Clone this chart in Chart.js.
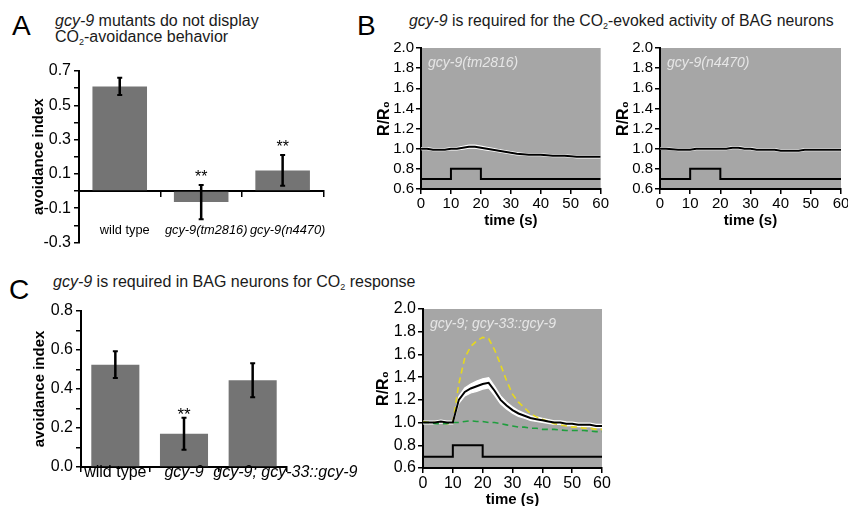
<!DOCTYPE html>
<html>
<head>
<meta charset="utf-8">
<script src="https://cdn.jsdelivr.net/npm/chart.js@4.4.1/dist/chart.umd.min.js"></script>
<style>
  body { margin: 0; width: 848px; height: 506px; overflow: hidden; background: #fff; position: relative;
         font-family: "Liberation Sans", Arial, sans-serif; color: #000; }
  .letter { position: absolute; font-size: 28px; line-height: 28px; }
  .title { position: absolute; font-size: 16px; line-height: 16px; color: #1a1a1a; white-space: nowrap; }
  .title sub { font-size: 9px; line-height: 0; vertical-align: -3px; }
  .box { position: absolute; }
</style>
</head>
<body>
<div class="letter" style="left:12px;top:12px">A</div>
<div class="title" style="left:55px;top:13px"><i>gcy-9</i> mutants do not display<br>CO<sub>2</sub>-avoidance behavior</div>
<div class="letter" style="left:357px;top:12px">B</div>
<div class="title" style="left:409px;top:13px;font-size:15.8px"><i>gcy-9</i> is required for the CO<sub>2</sub>-evoked activity of BAG neurons</div>
<div class="letter" style="left:9px;top:276px">C</div>
<div class="title" style="left:53px;top:274px"><i>gcy-9</i> is required in BAG neurons for CO<sub>2</sub> response</div>

<div class="box" style="left:30px;top:55px;width:320px;height:200px"><canvas id="chartA"></canvas></div>
<div class="box" style="left:370px;top:30px;width:240px;height:200px"><canvas id="chartB1"></canvas></div>
<div class="box" style="left:609px;top:30px;width:250px;height:200px"><canvas id="chartB2"></canvas></div>
<div class="box" style="left:30px;top:295px;width:335px;height:205px"><canvas id="chartC1"></canvas></div>
<div class="box" style="left:370px;top:295px;width:242px;height:214px"><canvas id="chartC2"></canvas></div>

<script>
// behaviour assays
const genotypesA = ['wild type', 'gcy-9(tm2816)', 'gcy-9(n4470)'];
const avoidanceA = [0.61, -0.065, 0.12];
const errorA = [0.05, 0.10, 0.09];
const starsA = ['', '**', '**'];
const yLabelsA = [0.7, 0.5, 0.3, 0.1, -0.1, -0.3];

const genotypesC = ['wild type', 'gcy-9', 'gcy-9; gcy-33::gcy-9'];
const avoidanceC = [0.525, 0.17, 0.445];
const errorC = [0.068, 0.082, 0.087];
const starsC = ['', '**', ''];
const yLabelsC = [0, 0.2, 0.4, 0.6, 0.8];

// calcium imaging, R/R0 every 2 s
const timeSec = [0, 2, 4, 6, 8, 10, 12, 14, 16, 18, 20, 22, 24, 26, 28, 30,
  32, 34, 36, 38, 40, 42, 44, 46, 48, 50, 52, 54, 56, 58, 60];
const tm2816Ratio = [1.00, 1.00, 0.99, 0.99, 0.99, 1.00, 1.00, 1.01, 1.02, 1.02, 1.01, 1.00,
  0.99, 0.98, 0.97, 0.96, 0.95, 0.945, 0.94, 0.94, 0.94, 0.935, 0.93, 0.93, 0.93, 0.925,
  0.92, 0.92, 0.92, 0.92, 0.92];
const tm2816Sem = [0.01, 0.01, 0.01, 0.01, 0.01, 0.01, 0.012, 0.014, 0.015, 0.015, 0.015,
  0.014, 0.013, 0.012, 0.012, 0.011, 0.011, 0.01, 0.01, 0.01, 0.01, 0.01, 0.01, 0.01, 0.01,
  0.01, 0.01, 0.01, 0.01, 0.01, 0.01];
const n4470Ratio = [1.00, 1.00, 0.995, 0.99, 0.99, 0.99, 1.00, 1.00, 1.00, 1.00, 1.00, 1.00,
  1.01, 1.01, 1.00, 1.00, 0.99, 0.99, 0.99, 0.99, 0.98, 0.98, 0.98, 0.98, 0.99, 0.99,
  0.99, 0.99, 0.99, 0.99, 0.99];
const n4470Sem = [0.008, 0.008, 0.008, 0.008, 0.008, 0.008, 0.009, 0.009, 0.009, 0.009,
  0.009, 0.009, 0.01, 0.01, 0.01, 0.01, 0.01, 0.01, 0.01, 0.01, 0.01, 0.01, 0.01, 0.01,
  0.01, 0.01, 0.01, 0.01, 0.01, 0.01, 0.01];
const rescueRatio = [1.00, 1.00, 1.00, 1.01, 1.00, 1.00, 1.20, 1.27, 1.30, 1.32, 1.34, 1.35,
  1.28, 1.20, 1.15, 1.11, 1.08, 1.06, 1.04, 1.03, 1.02, 1.01, 1.00, 1.00, 0.99, 0.99,
  0.98, 0.98, 0.98, 0.97, 0.97];
const rescueSem = [0.012, 0.012, 0.012, 0.012, 0.012, 0.012, 0.03, 0.035, 0.04, 0.045, 0.045,
  0.045, 0.04, 0.035, 0.03, 0.028, 0.025, 0.022, 0.02, 0.02, 0.018, 0.017, 0.016, 0.016,
  0.016, 0.015, 0.015, 0.015, 0.015, 0.015, 0.015];
const wildTypeRatio = [1.01, 1.00, 1.00, 1.00, 0.99, 1.00, 1.34, 1.57, 1.67, 1.72, 1.75, 1.74,
  1.64, 1.51, 1.37, 1.25, 1.18, 1.13, 1.08, 1.05, 1.03, 1.01, 0.99, 0.98, 0.97, 0.96,
  0.96, 0.95, 0.95, 0.94, 0.94];
const mutantRatio = [1.00, 1.00, 0.99, 0.99, 0.99, 1.00, 1.00, 1.01, 1.015, 1.01, 1.01, 1.00,
  1.00, 0.99, 0.98, 0.97, 0.96, 0.96, 0.95, 0.95, 0.94, 0.94, 0.94, 0.935, 0.93, 0.93,
  0.93, 0.93, 0.925, 0.92, 0.92];
const stimTime = [0, 10, 10, 20, 20, 60];
const stimLevel = [0.7, 0.7, 0.8, 0.8, 0.7, 0.7];
const yTicksRatio = [0.6, 0.8, 1.0, 1.2, 1.4, 1.6, 1.8, 2.0];

const FONT = '"Liberation Sans", Arial, sans-serif';
const PLOT_GREY = '#a6a6a6';
const BAR_GREY = '#747474';

function xy(xs, ys) {
  return xs.map((x, i) => ({ x, y: ys[i] }));
}

const plotBg = {
  id: 'plotBg',
  beforeDraw(chart, args, opts) {
    if (!opts.color) return;
    const { ctx, chartArea: a } = chart;
    ctx.save();
    ctx.fillStyle = opts.color;
    ctx.fillRect(a.left, a.top, a.right - a.left, a.bottom - a.top);
    ctx.restore();
  },
};

// white SEM band: fills between the points of the "upper" and "lower" datasets
const semBand = {
  id: 'semBand',
  beforeDatasetsDraw(chart) {
    const { ctx, chartArea: a } = chart;
    const idx = chart.data.datasets.map((d, i) => [d.band, i]);
    const up = idx.find((p) => p[0] === 'upper');
    const lo = idx.find((p) => p[0] === 'lower');
    if (!up || !lo) return;
    const upPts = chart.getDatasetMeta(up[1]).data;
    const loPts = chart.getDatasetMeta(lo[1]).data;
    ctx.save();
    ctx.beginPath();
    ctx.rect(a.left, a.top, a.right - a.left, a.bottom - a.top);
    ctx.clip();
    ctx.beginPath();
    upPts.forEach((p, i) => (i ? ctx.lineTo(p.x, p.y) : ctx.moveTo(p.x, p.y)));
    for (let i = loPts.length - 1; i >= 0; i--) ctx.lineTo(loPts[i].x, loPts[i].y);
    ctx.closePath();
    ctx.fillStyle = '#fff';
    ctx.fill();
    ctx.restore();
  },
};

const cornerLabel = {
  id: 'cornerLabel',
  afterDatasetsDraw(chart, args, opts) {
    if (!opts.text) return;
    const { ctx, chartArea: a } = chart;
    ctx.save();
    ctx.font = 'italic 14px ' + FONT;
    ctx.fillStyle = '#e6e6e6';
    ctx.textBaseline = 'middle';
    ctx.fillText(opts.text, a.left + 7, a.top + 15);
    ctx.restore();
  },
};

const errorBars = {
  id: 'errorBars',
  afterDatasetsDraw(chart, args, opts) {
    const { ctx } = chart;
    const ys = chart.scales.y;
    chart.data.datasets.forEach((ds, di) => {
      if (!ds.errors) return;
      chart.getDatasetMeta(di).data.forEach((bar, i) => {
        const top = ys.getPixelForValue(ds.data[i] + ds.errors[i]);
        const bot = ys.getPixelForValue(ds.data[i] - ds.errors[i]);
        ctx.save();
        ctx.strokeStyle = '#000';
        ctx.lineWidth = 2.5;
        ctx.beginPath();
        ctx.moveTo(bar.x, top);
        ctx.lineTo(bar.x, bot);
        ctx.stroke();
        ctx.lineWidth = 2;
        ctx.beginPath();
        ctx.moveTo(bar.x - 2.5, top);
        ctx.lineTo(bar.x + 2.5, top);
        ctx.moveTo(bar.x - 2.5, bot);
        ctx.lineTo(bar.x + 2.5, bot);
        ctx.stroke();
        if (ds.stars && ds.stars[i]) {
          ctx.fillStyle = '#000';
          ctx.font = (opts.starSize || 16) + 'px ' + FONT;
          ctx.textAlign = 'center';
          ctx.textBaseline = 'alphabetic';
          ctx.fillText(ds.stars[i], bar.x, top + (opts.starShift || 0));
        }
        ctx.restore();
      });
    });
  },
};

// category labels that are wider than their slot start at the slot edge
const catLabels = {
  id: 'catLabels',
  afterDraw(chart, args, opts) {
    if (!opts.labels) return;
    const { ctx, chartArea: a } = chart;
    const xs = chart.scales.x;
    const slot = xs.getPixelForValue(1) - xs.getPixelForValue(0);
    ctx.save();
    ctx.fillStyle = '#000';
    ctx.textBaseline = 'alphabetic';
    opts.labels.forEach((label, i) => {
      ctx.font = (label === 'wild type' ? '' : 'italic ') + opts.size + 'px ' + FONT;
      const w = ctx.measureText(label).width;
      const cx = xs.getPixelForValue(i);
      if (w > slot - 6) {
        ctx.textAlign = 'left';
        ctx.fillText(label, cx - slot / 2 - 5, a.bottom + 10);
      } else {
        ctx.textAlign = 'center';
        ctx.fillText(label, cx, a.bottom + 10);
      }
    });
    ctx.restore();
  },
};

function axisStyle() {
  return {
    border: { display: true, color: '#000', width: 2 },
    grid: { drawOnChartArea: false, drawTicks: true, tickLength: 5, color: '#000', lineWidth: 1.5 },
  };
}

function barChart(id, labels, values, errors, stars, yMin, yMax, yLabels, opts) {
  const yAxis = Object.assign(axisStyle(), {
    min: yMin,
    max: yMax,
    afterFit: (s) => { s.width = opts.yWidth; },
    ticks: {
      stepSize: 0.1,
      autoSkip: false,
      color: '#000',
      padding: 3,
      font: { family: FONT, size: 16 },
      callback: (v) => (yLabels.some((t) => Math.abs(t - v) < 1e-6) ? v.toFixed(1) : ''),
    },
    title: { display: true, text: 'avoidance index', color: '#000', padding: { top: opts.titlePad, bottom: 0 },
      font: { family: FONT, size: 15, weight: 'bold' } },
  });
  const xAxis = Object.assign(axisStyle(), opts.xAxis, {
    afterFit: (s) => { s.height = opts.xHeight; },
  });
  xAxis.grid = Object.assign(xAxis.grid, { offset: true });
  return new Chart(document.getElementById(id), {
    type: 'bar',
    data: {
      labels,
      datasets: [{
        data: values,
        errors,
        stars,
        backgroundColor: BAR_GREY,
        borderWidth: 0,
        categoryPercentage: 1,
        barPercentage: opts.barPct,
      }],
    },
    options: {
      responsive: true,
      maintainAspectRatio: false,
      animation: false,
      layout: { padding: opts.padding },
      plugins: {
        legend: { display: false },
        tooltip: { enabled: false },
        errorBars: { starSize: opts.starSize, starShift: opts.starShift },
        catLabels: { labels: opts.catLabels, size: 16 },
      },
      scales: { x: xAxis, y: yAxis },
    },
    plugins: [errorBars, catLabels],
  });
}

barChart('chartA', genotypesA, avoidanceA, errorA, starsA, -0.3, 0.7, yLabelsA, {
  yWidth: 49,
  xHeight: 16,
  titlePad: 0,
  barPct: 0.67,
  starSize: 16,
  starShift: -3,
  padding: { left: 0, top: 16, right: 16, bottom: 0 },
  xAxis: {
    position: { y: 0 },
    ticks: {
      color: '#000',
      padding: 27,
      labelOffset: 5,
      autoSkip: false,
      maxRotation: 0,
      font: (ctx) => ({ family: FONT, size: 12.8,
        style: genotypesA[ctx.index] === 'wild type' ? 'normal' : 'italic' }),
    },
  },
});

barChart('chartC1', genotypesC, avoidanceC, errorC, starsC, 0, 0.8, yLabelsC, {
  yWidth: 51,
  xHeight: 33,
  titlePad: 1,
  barPct: 0.7,
  starSize: 17,
  starShift: 2,
  catLabels: genotypesC,
  padding: { left: 0, top: 16, right: 78, bottom: 0 },
  xAxis: { ticks: { display: false } },
});

function ratioChart(id, mean, sem, extra, label, opts) {
  // larger "order" is drawn first, so the mean trace ends up on top
  const datasets = [
    { band: 'upper', data: xy(timeSec, mean.map((m, i) => m + sem[i])), borderColor: '#fff',
      borderWidth: 1.2, fill: false, order: 6 },
    { band: 'lower', data: xy(timeSec, mean.map((m, i) => m - sem[i])), borderColor: '#fff',
      borderWidth: 1.2, fill: false, order: 5 },
  ];
  extra.forEach((e, k) => datasets.push({
    data: xy(timeSec, e.values), borderColor: e.color, borderWidth: 1.6, borderDash: e.dash, fill: false,
    order: 3 - k,
  }));
  datasets.push({ data: xy(timeSec, mean), borderColor: '#000', borderWidth: 2, fill: false, order: 1 });
  datasets.push({ data: xy(stimTime, stimLevel), borderColor: '#000', borderWidth: 2, fill: false, order: 0 });

  return new Chart(document.getElementById(id), {
    type: 'line',
    data: { datasets },
    options: {
      responsive: true,
      maintainAspectRatio: false,
      animation: false,
      layout: { padding: opts.padding },
      elements: { point: { radius: 0 }, line: { tension: 0 } },
      plugins: {
        legend: { display: false },
        tooltip: { enabled: false },
        plotBg: { color: PLOT_GREY },
        cornerLabel: { text: label },
      },
      scales: {
        x: Object.assign(axisStyle(), {
          type: 'linear',
          min: 0,
          max: 60,
          afterFit: (s) => { s.height = opts.xHeight; },
          ticks: { stepSize: 10, autoSkip: false, color: '#000', padding: 1, maxRotation: 0,
            font: { family: FONT, size: opts.tickSize } },
          title: { display: true, text: 'time (s)', color: '#000', padding: { top: 0, bottom: opts.xTitlePad },
            font: { family: FONT, size: 15, weight: 'bold' } },
        }),
        y: Object.assign(axisStyle(), {
          min: 0.6,
          max: 2.0,
          afterFit: (s) => { s.width = opts.yWidth; },
          afterBuildTicks: (s) => { s.ticks = yTicksRatio.map((v) => ({ value: v })); },
          ticks: { autoSkip: false, color: '#000', padding: 2, callback: (v) => v.toFixed(1),
            font: { family: FONT, size: opts.tickSize } },
          title: { display: true, text: 'R/R₀', color: '#000', padding: { top: opts.yTitlePad, bottom: 0 },
            font: { family: FONT, size: 16, weight: 'bold' } },
        }),
      },
    },
    plugins: [plotBg, semBand, cornerLabel],
  });
}

ratioChart('chartB1', tm2816Ratio, tm2816Sem, [], 'gcy-9(tm2816)', {
  padding: { left: 0, top: 18, right: 9, bottom: 0 },
  xHeight: 41, yWidth: 51, tickSize: 15, xTitlePad: 0, yTitlePad: 5,
});
ratioChart('chartB2', n4470Ratio, n4470Sem, [], 'gcy-9(n4470)', {
  padding: { left: 0, top: 18, right: 18, bottom: 0 },
  xHeight: 41, yWidth: 51, tickSize: 15, xTitlePad: 0, yTitlePad: 5,
});
ratioChart('chartC2', rescueRatio, rescueSem, [
  { values: wildTypeRatio, color: '#e6d81e', dash: [6, 4] },
  { values: mutantRatio, color: '#1f9e3e', dash: [6, 4] },
], 'gcy-9; gcy-33::gcy-9', {
  padding: { left: 0, top: 14, right: 10, bottom: 0 },
  xHeight: 41, yWidth: 53, tickSize: 16, xTitlePad: 0, yTitlePad: 4,
});
</script>
</body>
</html>
